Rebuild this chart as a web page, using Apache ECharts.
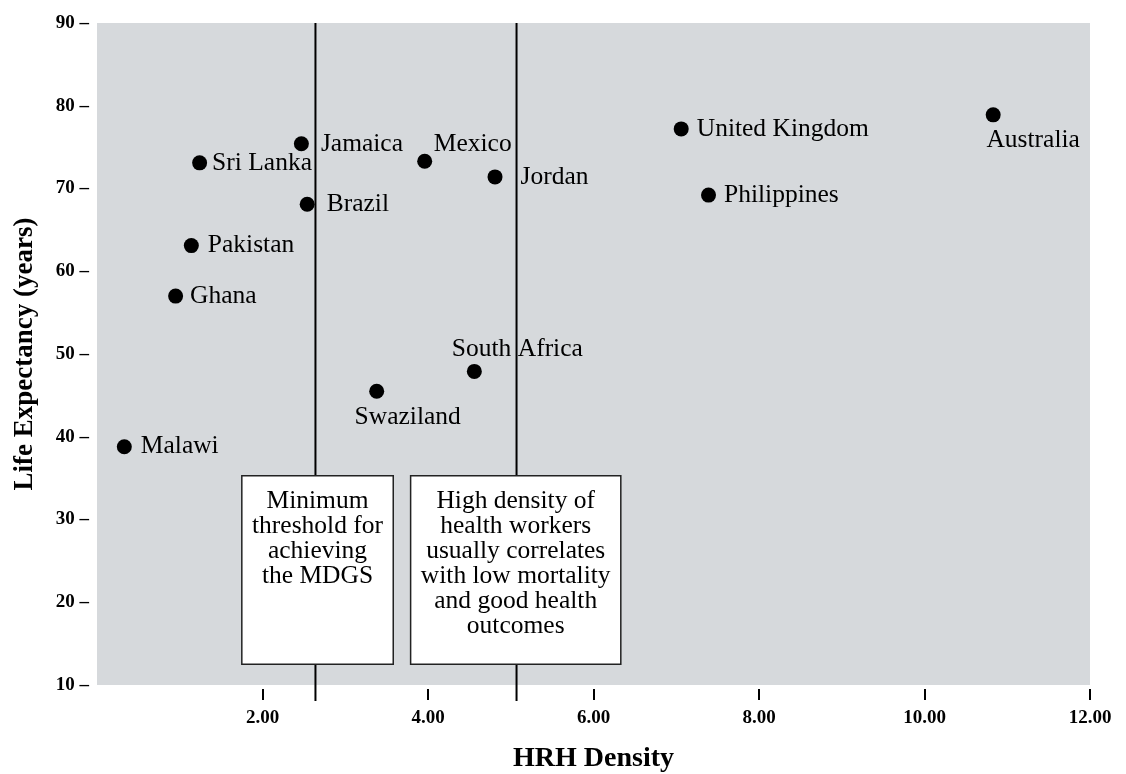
<!DOCTYPE html>
<html>
<head>
<meta charset="utf-8">
<title>HRH Density vs Life Expectancy</title>
<script src="https://cdn.jsdelivr.net/npm/echarts@6/dist/echarts.min.js"></script>
<style>
  html, body { margin: 0; padding: 0; background: #fff; }
  #chart { width: 1126px; height: 774px; }
</style>
</head>
<body>
<div id="chart"></div>
<script>
// data
const countries = ['Malawi', 'Ghana', 'Pakistan', 'Sri Lanka', 'Jamaica', 'Brazil', 'Mexico',
  'Jordan', 'Swaziland', 'South Africa', 'United Kingdom', 'Philippines', 'Australia']
const hrhDensity = [0.33, 0.95, 1.14, 1.24, 2.47, 2.54, 3.96, 4.81, 3.38, 4.56, 7.06, 7.39, 10.83]
const lifeExpectancy = [38.8, 57.0, 63.1, 73.1, 75.4, 68.1, 73.3, 71.4, 45.5, 47.9, 77.2, 69.2, 78.9]
const xTicks = [2, 4, 6, 8, 10, 12]
const yTicks = [10, 20, 30, 40, 50, 60, 70, 80, 90]
const thresholds = [2.64, 5.07]
const boxTexts = [
  'Minimum\nthreshold for\nachieving\nthe MDGS',
  'High density of\nhealth workers\nusually correlates\nwith low mortality\nand good health\noutcomes'
]

const serif = "'Liberation Serif', 'DejaVu Serif', serif"
const ink = '#000'

// label placement per point (style only)
const labelTweaks = {
  'Malawi': { distance: 9 },
  'Ghana': { distance: 7 },
  'Pakistan': { distance: 9 },
  'Sri Lanka': { distance: 5 },
  'Jamaica': { distance: 12 },
  'Brazil': { distance: 12 },
  'Jordan': { distance: 18 },
  'Mexico': { position: 'inside', offset: [48, -17] },
  'South Africa': { position: 'inside', offset: [43, -22] },
  'Swaziland': { position: 'inside', offset: [31, 26] },
  'Australia': { position: 'inside', offset: [40, 25] }
}

const pointData = countries.map((name, i) => ({
  name: name,
  value: [hrhDensity[i], lifeExpectancy[i]],
  label: Object.assign({}, labelTweaks[name] || {})
}))

const myChart = echarts.init(document.getElementById('chart'))

const option = {
  animation: false,
  grid: {
    left: 97,
    right: 36,
    top: 23,
    bottom: 89,
    outerBoundsMode: 'none',
    containLabel: false,
    show: true,
    backgroundColor: '#d6d9dc',
    borderWidth: 0
  },
  xAxis: {
    type: 'value',
    min: 0,
    max: 12,
    offset: 4,
    name: 'HRH Density',
    nameLocation: 'middle',
    nameGap: 56,
    nameTextStyle: { fontFamily: serif, fontWeight: 'bold', fontSize: 28, color: ink },
    axisLine: { show: false },
    splitLine: { show: false },
    axisTick: {
      show: true,
      length: 11,
      customValues: xTicks,
      lineStyle: { color: ink, width: 2 }
    },
    axisLabel: {
      customValues: xTicks,
      margin: 20,
      formatter: v => v.toFixed(2),
      fontFamily: serif,
      fontWeight: 'bold',
      fontSize: 19,
      color: ink
    }
  },
  yAxis: {
    type: 'value',
    min: 10,
    max: 90,
    interval: 10,
    name: 'Life Expectancy (years)',
    nameLocation: 'middle',
    nameGap: 58,
    nameTextStyle: { fontFamily: serif, fontWeight: 'bold', fontSize: 27, color: ink },
    axisLine: { show: false },
    axisTick: { show: false },
    splitLine: { show: false },
    axisLabel: {
      customValues: yTicks,
      margin: 8,
      formatter: '{value} –',
      fontFamily: serif,
      fontWeight: 'bold',
      fontSize: 19,
      color: ink
    }
  },
  series: [
    {
      name: 'threshold-1',
      type: 'line',
      data: [[thresholds[0], 90], [thresholds[0], 8.07]],
      clip: false,
      symbol: 'none',
      silent: true,
      z: 2,
      lineStyle: { color: ink, width: 2 }
    },
    {
      name: 'threshold-2',
      type: 'line',
      data: [[thresholds[1], 90], [thresholds[1], 8.07]],
      clip: false,
      symbol: 'none',
      silent: true,
      z: 2,
      lineStyle: { color: ink, width: 2 }
    },
    {
      name: 'notes',
      type: 'scatter',
      data: [],
      z: 4,
      markArea: {
        silent: true,
        z: 4,
        itemStyle: { color: '#fff', borderColor: '#222', borderWidth: 1.5, opacity: 1 },
        label: {
          show: true,
          position: 'insideTop',
          distance: 14,
          align: 'center',
          fontFamily: serif,
          fontSize: 25.5,
          lineHeight: 25,
          color: ink
        },
        data: [
          [{ xAxis: 1.75, yAxis: 35.3, name: boxTexts[0] }, { xAxis: 3.58, yAxis: 12.5 }],
          [{ xAxis: 3.79, yAxis: 35.3, name: boxTexts[1] }, { xAxis: 6.33, yAxis: 12.5 }]
        ]
      }
    },
    {
      name: 'countries',
      type: 'scatter',
      z: 6,
      symbol: 'circle',
      symbolSize: 15,
      itemStyle: { color: ink, opacity: 1 },
      label: {
        show: true,
        position: 'right',
        distance: 8,
        formatter: '{b}',
        fontFamily: serif,
        fontSize: 25.5,
        color: ink
      },
      data: pointData
    }
  ]
}

myChart.setOption(option)
</script>
</body>
</html>
